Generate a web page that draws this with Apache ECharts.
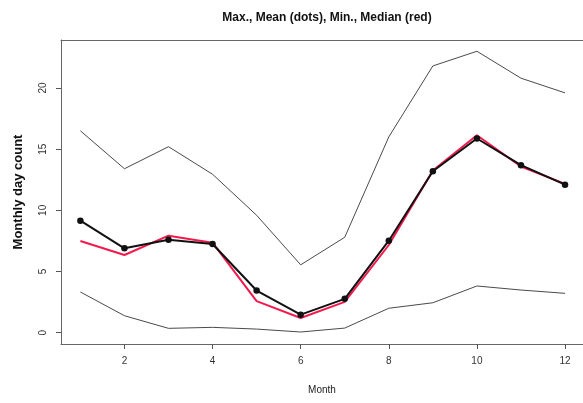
<!DOCTYPE html>
<html>
<head>
<meta charset="utf-8">
<script src="https://cdn.jsdelivr.net/npm/echarts@6/dist/echarts.min.js"></script>
<style>html,body{margin:0;padding:0;background:#fff}#c{width:583px;height:403px}</style>
</head>
<body>
<div id="c"></div>
<script>
const months = [1,2,3,4,5,6,7,8,9,10,11,12];
const maxVals = [16.5,13.4,15.2,12.95,9.6,5.55,7.8,16.0,21.8,23.0,20.8,19.6];
const meanVals = [9.16,6.9,7.6,7.25,3.45,1.48,2.77,7.52,13.2,15.87,13.69,12.1];
const minVals = [3.33,1.39,0.36,0.44,0.3,0.06,0.38,2.0,2.45,3.82,3.49,3.22];
const medianVals = [7.5,6.35,7.93,7.36,2.58,1.2,2.52,7.17,13.25,16.14,13.58,12.16];
const xTicks = [2,4,6,8,10,12];
const yTicks = [0,5,10,15,20];

const pairs = a => months.map((m,i)=>[m,a[i]]);
const font = 'Liberation Sans, Arial, Helvetica, sans-serif';
const boxLine = {show:true, onZero:false, lineStyle:{color:'#666', width:1}};
const chart = echarts.init(document.getElementById('c'), null, {renderer:'canvas'});
chart.setOption({
  animation:false,
  backgroundColor:'#fff',
  title:{text:'Max., Mean (dots), Min., Median (red)', left:322, top:7, textAlign:'center',
    textStyle:{fontFamily:font, fontSize:12, fontWeight:'bold', color:'#111'}},
  grid:{left:61, top:40, right:0, height:304, show:false},
  xAxis:[{type:'value', min:0.56, max:12.408, position:'bottom',
    name:'Month', nameLocation:'middle', nameGap:41,
    nameTextStyle:{fontFamily:font, fontSize:10, color:'#222'},
    axisLine:boxLine, splitLine:{show:false},
    axisTick:{show:true, length:5, customValues:xTicks, lineStyle:{color:'#555'}},
    axisLabel:{customValues:xTicks, margin:12, fontFamily:font, fontSize:10, color:'#333'}},
   {type:'value', min:0.56, max:12.408, position:'top',
    axisLine:boxLine, splitLine:{show:false}, axisTick:{show:false}, axisLabel:{show:false}}],
  yAxis:{type:'value', min:-0.92, max:23.92,
    name:'Monthly day count', nameLocation:'middle', nameGap:36,
    nameTextStyle:{fontFamily:font, fontSize:13, fontWeight:'bold', color:'#111'},
    axisLine:boxLine, splitLine:{show:false},
    axisTick:{show:true, length:5, customValues:yTicks, lineStyle:{color:'#555'}},
    axisLabel:{customValues:yTicks, rotate:90, margin:13, fontFamily:font, fontSize:10, color:'#333'}},
  series:[
    {type:'line', data:pairs(maxVals), symbol:'none', lineStyle:{color:'#4a4a4a', width:1}},
    {type:'line', data:pairs(minVals), symbol:'none', lineStyle:{color:'#4a4a4a', width:1}},
    {type:'line', data:pairs(medianVals), symbol:'none', lineStyle:{color:'#f3194d', width:2}},
    {type:'line', data:pairs(meanVals), symbol:'circle', symbolSize:6.5, itemStyle:{color:'#111'}, lineStyle:{color:'#111', width:2}}
  ]
});
</script>
</body>
</html>
